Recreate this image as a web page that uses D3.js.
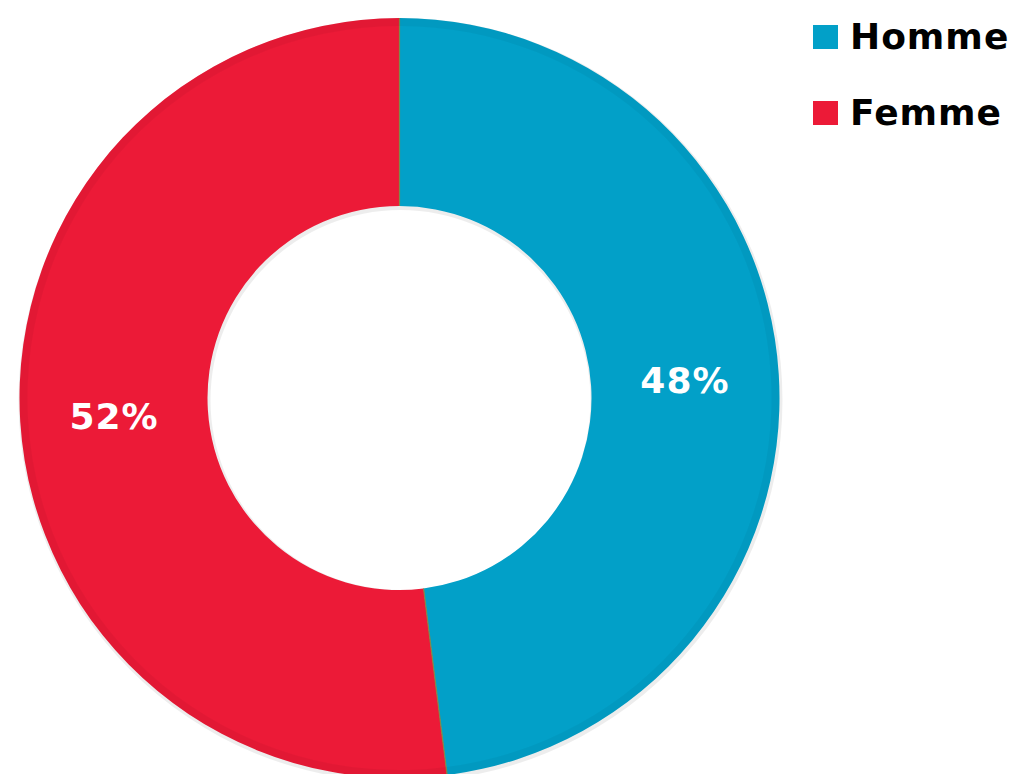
<!DOCTYPE html>
<html>
<head>
<meta charset="utf-8">
<script src="https://cdn.jsdelivr.net/npm/d3@7"></script>
<style>
  body { margin: 0; background: #fff; }
  svg { display: block; }
</style>
</head>
<body>
<svg width="1017" height="774"></svg>
<script>
// données
const categories = ["Homme", "Femme"];
const valeurs = [48, 52];
const couleurs = ["#02a0c8", "#ec1a37"];

let svg = d3.select("svg");
const cx = 399.5, cy = 398;
const rExt = 380, rInt = 192;

const pie = d3.pie().sort(null).value(d => d.v);
const arcs = pie(categories.map((c, i) => ({ c: c, v: valeurs[i], col: couleurs[i] })));

const arc = d3.arc().innerRadius(rInt).outerRadius(rExt);
const arcLabel = d3.arc().innerRadius((rInt + rExt) / 2).outerRadius((rInt + rExt) / 2);

let g = svg.append("g").attr("transform", `translate(${cx},${cy})`);

// ombre légère (anneau)
g.append("path")
    .attr("d", d3.arc().innerRadius(rInt - 2).outerRadius(rExt + 2).startAngle(0).endAngle(2 * Math.PI)())
    .attr("transform", "translate(1,2)")
    .attr("fill", "#000")
    .attr("opacity", 0.07);

g.selectAll(".part")
    .data(arcs)
    .enter()
    .append("path")
    .attr("class", "part")
    .attr("d", arc)
    .attr("fill", d => d.data.col);

// séparations entre les parts
g.selectAll(".sep")
    .data(arcs)
    .enter()
    .append("line")
    .attr("x1", d => rInt * Math.sin(d.startAngle))
    .attr("y1", d => -rInt * Math.cos(d.startAngle))
    .attr("x2", d => rExt * Math.sin(d.startAngle))
    .attr("y2", d => -rExt * Math.cos(d.startAngle))
    .attr("stroke", "#7f8a4a")
    .attr("stroke-width", 1.2);

// petit biseau sur le bord extérieur
const arcBiseau = d3.arc().innerRadius(rExt - 8).outerRadius(rExt);
g.selectAll(".biseau")
    .data(arcs)
    .enter()
    .append("path")
    .attr("d", arcBiseau)
    .attr("fill", "#000")
    .attr("opacity", 0.04);

// étiquettes
g.selectAll(".etiquette")
    .data(arcs)
    .enter()
    .append("text")
    .attr("transform", d => `translate(${arcLabel.centroid(d)})`)
    .attr("text-anchor", "middle")
    .attr("dy", "0.36em")
    .attr("fill", "#fff")
    .style("font-family", "'DejaVu Sans', sans-serif")
    .style("font-weight", "bold")
    .style("font-size", "36px")
    .style("letter-spacing", "1px")
    .text(d => d.data.v + "%");

// légende
let legende = svg.append("g").attr("transform", "translate(813,25)");
let item = legende.selectAll(".item")
    .data(categories)
    .enter()
    .append("g")
    .attr("transform", (d, i) => `translate(0,${i * 76})`);

item.append("rect")
    .attr("width", 25)
    .attr("height", 24)
    .attr("fill", (d, i) => couleurs[i]);

item.append("text")
    .attr("x", 37)
    .attr("y", 24)
    .attr("fill", "#000")
    .style("font-family", "'DejaVu Sans', sans-serif")
    .style("font-weight", "bold")
    .style("font-size", "36px")
    .style("letter-spacing", "1px")
    .text(d => d);
</script>
</body>
</html>
